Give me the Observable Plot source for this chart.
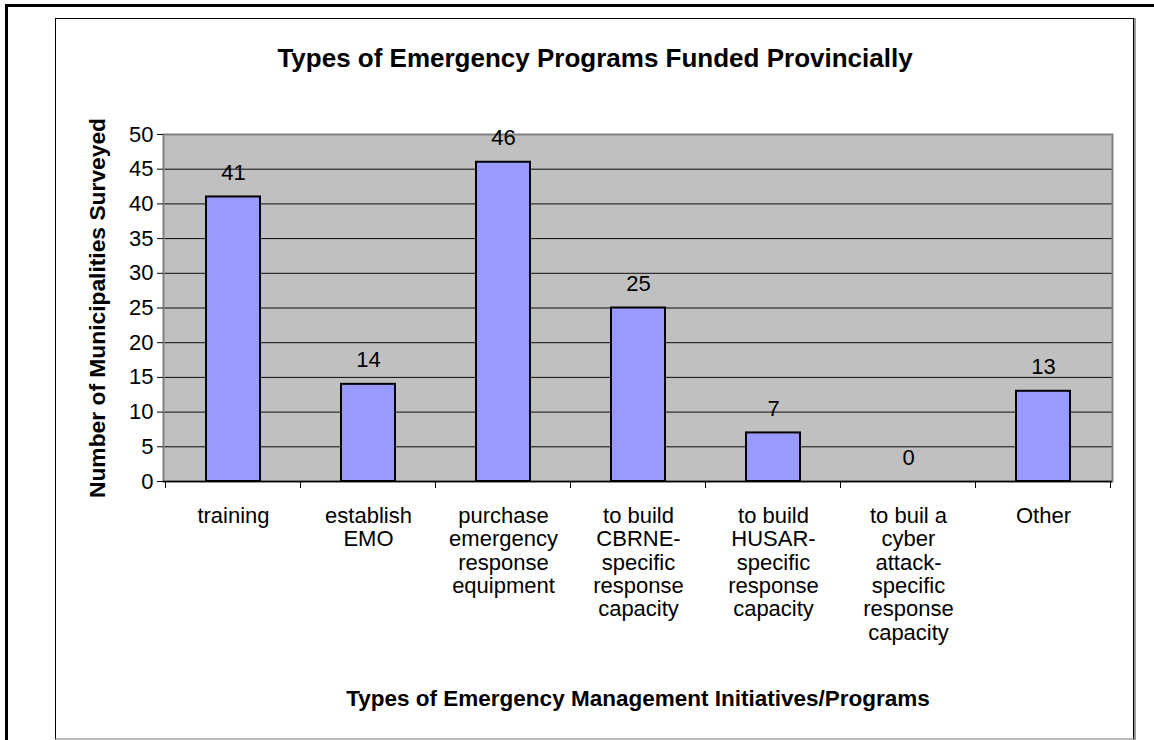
<!DOCTYPE html>
<html>
<head>
<meta charset="utf-8">
<script src="https://cdn.jsdelivr.net/npm/d3@7"></script>
<script src="https://cdn.jsdelivr.net/npm/@observablehq/plot@0.6"></script>
<style>
  html, body { margin: 0; padding: 0; background: #fff; overflow: hidden; }
  #wrap { position: relative; width: 1154px; height: 740px; }
  #outer { position: absolute; left: 5px; top: 4px; width: 1200px; height: 800px;
           border-left: 3px solid #000; border-top: 3px solid #000; box-sizing: border-box; }
  #inner { position: absolute; left: 55px; top: 18px; width: 1079px; height: 722px;
           border: 1px solid #000; border-bottom: 2px solid #bdbdbd; box-sizing: border-box;
           box-shadow: 2px 0 0 #9a9a9a; }
  #chart { position: absolute; left: 0; top: 0; }
</style>
</head>
<body>
<div id="wrap">
  <div id="outer"></div>
  <div id="inner"></div>
  <div id="chart"></div>
</div>
<script>
const title = "Types of Emergency Programs Funded Provincially";
const yTitle = "Number of Municipalities Surveyed";
const xTitle = "Types of Emergency Management Initiatives/Programs";

const categories = [
  "training",
  "establish EMO",
  "purchase emergency response equipment",
  "to build CBRNE-specific response capacity",
  "to build HUSAR-specific response capacity",
  "to buil a cyber attack-specific response capacity",
  "Other"
];
const categoryLabels = [
  "training",
  "establish\nEMO",
  "purchase\nemergency\nresponse\nequipment",
  "to build\nCBRNE-\nspecific\nresponse\ncapacity",
  "to build\nHUSAR-\nspecific\nresponse\ncapacity",
  "to buil a\ncyber\nattack-\nspecific\nresponse\ncapacity",
  "Other"
];
const values = [41, 14, 46, 25, 7, 0, 13];
const yTicks = [0, 5, 10, 15, 20, 25, 30, 35, 40, 45, 50];

const data = categories.map((c, i) => ({category: c, label: categoryLabels[i], value: values[i]}));

const FONT = "'Liberation Sans', Arial, Helvetica, sans-serif";

function boundaryTicks(index, scales) {
  const sx = scales.x, sy = scales.y;
  const bw = sx.bandwidth(), step = sx.step();
  const y0 = sy(0);
  const g = document.createElementNS("http://www.w3.org/2000/svg", "g");
  const xs = categories.map(c => sx(c) + bw / 2 - step / 2);
  xs.push(sx(categories[categories.length - 1]) + bw / 2 + step / 2);
  for (const x of xs) {
    const l = document.createElementNS("http://www.w3.org/2000/svg", "line");
    l.setAttribute("x1", x); l.setAttribute("x2", x);
    l.setAttribute("y1", y0); l.setAttribute("y2", y0 + 7);
    l.setAttribute("stroke", "#000"); l.setAttribute("stroke-width", 1);
    g.appendChild(l);
  }
  return g;
}

const plot = Plot.plot({
  width: 1154,
  height: 740,
  marginLeft: 163,
  marginRight: 42,
  marginTop: 134,
  marginBottom: 259,
  style: {background: "transparent", fontFamily: FONT, color: "#000"},
  x: {type: "band", domain: categories, paddingInner: 0.6, paddingOuter: 0.3, axis: null},
  y: {domain: [0, 50], axis: null},
  marks: [
    Plot.frame({fill: "#C0C0C0"}),
    Plot.gridY(yTicks, {stroke: "#000", strokeOpacity: 0.95, strokeWidth: 1}),
    Plot.frame({stroke: "#808080", strokeWidth: 2}),
    Plot.axisY(yTicks, {tickSize: 6, tickPadding: 4, fontSize: 22, label: null, stroke: "#000"}),
    Plot.ruleY([0], {stroke: "#000", strokeWidth: 1.5}),
    boundaryTicks,
    Plot.barY(data, {x: "category", y: "value", fill: "#9999FF", stroke: "#000", strokeWidth: 2}),
    Plot.text(data, {x: "category", y: "value", text: d => String(d.value), dy: -24, fontSize: 22, fill: "#000"}),
    Plot.text(data, {x: "category", text: "label", frameAnchor: "bottom", lineAnchor: "top",
                     dy: 25, fontSize: 22, lineHeight: 1.06, fill: "#000"}),
    Plot.text([title], {frameAnchor: "top", lineAnchor: "middle", dx: -43, dy: -76,
                        fontSize: 26, fontWeight: "bold", fill: "#000"}),
    Plot.text([xTitle], {frameAnchor: "bottom", lineAnchor: "middle", dy: 217,
                         fontSize: 22.5, fontWeight: "bold", fill: "#000"}),
    Plot.text([yTitle], {frameAnchor: "left", textAnchor: "middle", lineAnchor: "middle", dx: -66, rotate: -90,
                         fontSize: 22.8, fontWeight: "bold", fill: "#000"})
  ]
});
document.getElementById("chart").appendChild(plot);
</script>
</body>
</html>
